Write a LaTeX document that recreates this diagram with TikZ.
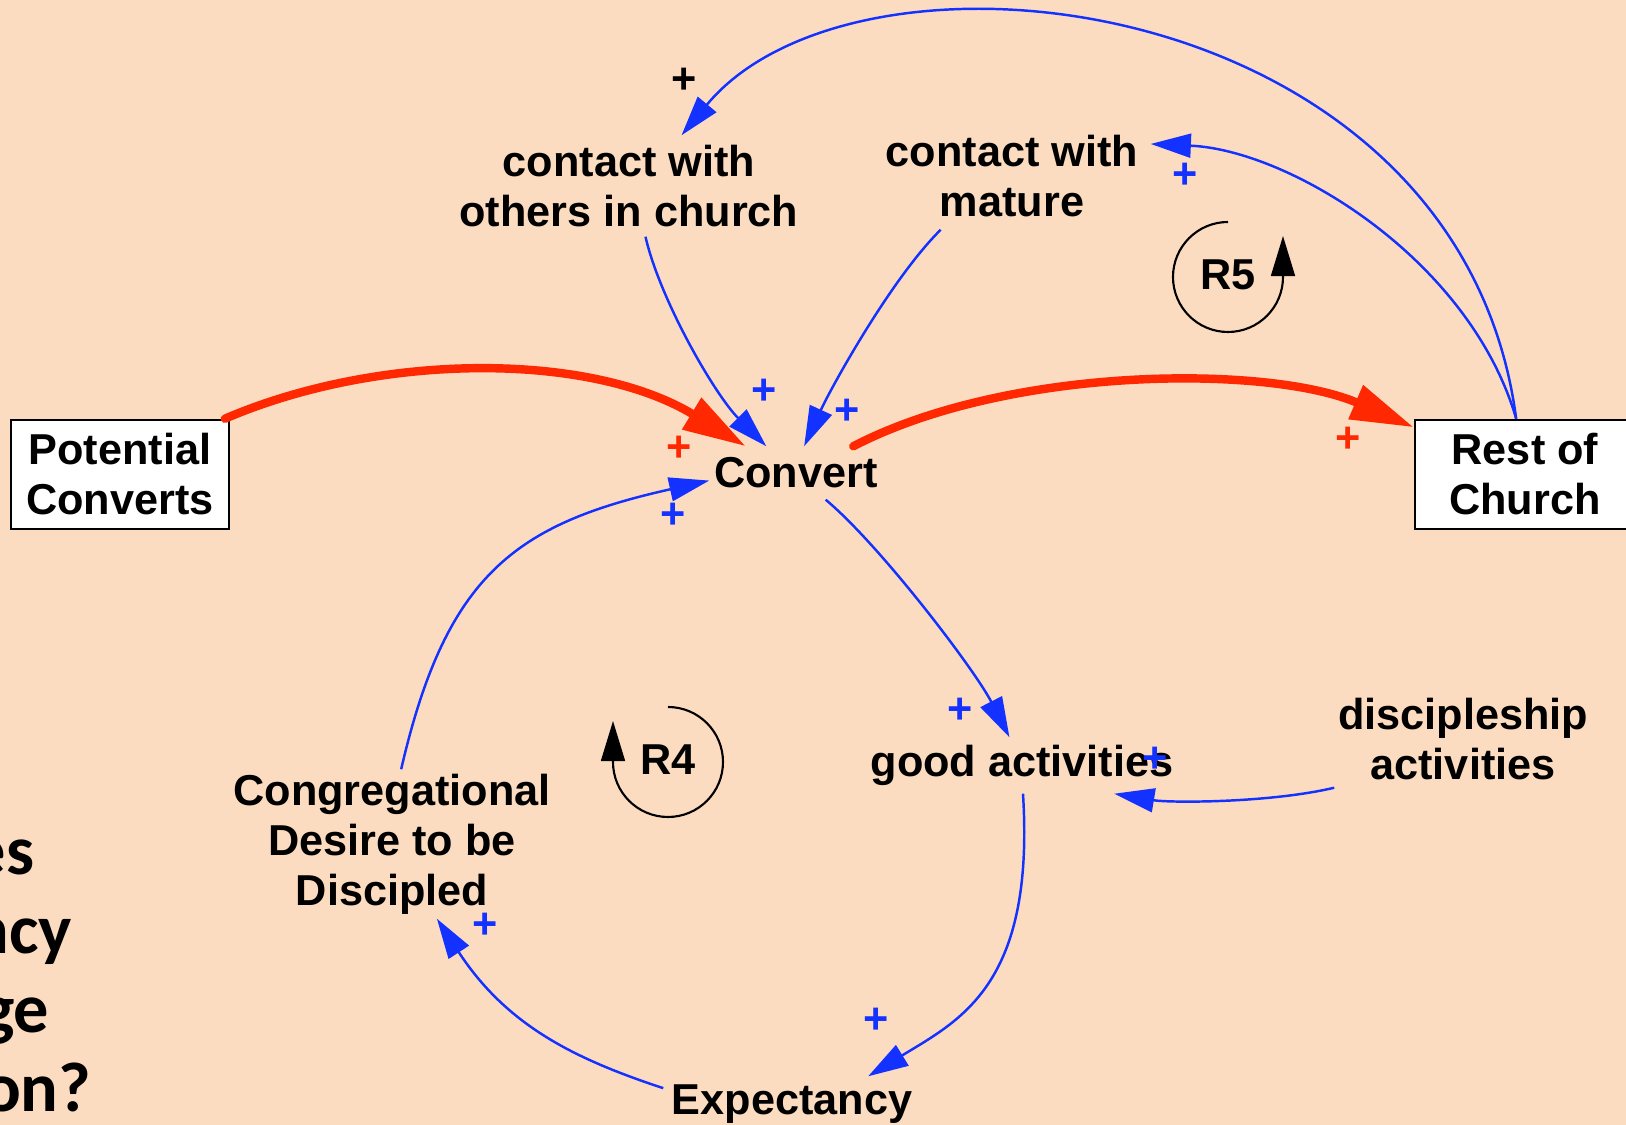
\documentclass[tikz,border=0pt]{standalone}
\usepackage{fontspec}
\setmainfont{Liberation Sans}
\newfontfamily\notefont{Carlito}
\usepackage{tikz}
\usetikzlibrary{arrows.meta}

\definecolor{peach}{RGB}{252,220,192}
\definecolor{linkblue}{RGB}{20,50,255}
\definecolor{flowred}{RGB}{255,40,0}

\tikzset{
  var/.style={font=\fontsize{12.3}{14.2}\selectfont\bfseries, align=center, inner sep=0pt},
  stock/.style={var, draw, fill=white, line width=0.7pt},
  link/.style={linkblue, line width=0.7pt, -{Triangle[length=11.4pt,width=6.8pt]}},
  flow/.style={flowred, line width=2.4pt, line cap=round, -{Triangle[length=18pt,width=10pt]}},
  loopmark/.style={black, line width=0.6pt, -{Triangle[length=11.4pt,width=6.8pt]}},
  sign/.style={font=\fontsize{12.3}{14.2}\selectfont\bfseries, inner sep=0pt},
  question/.style={font=\notefont\fontsize{20}{24}\selectfont\bfseries, inner sep=0pt, anchor=base east},
}

\begin{document}
\begin{tikzpicture}[x=0.01cm, y=0.01cm]
  \useasboundingbox (0,0) rectangle (1626,-1125);
  \fill[peach] (0,0) rectangle (1626,-1125);
  \clip (0,0) rectangle (1626,-1125);

  % stocks
  \node[stock, minimum width=21.8mm, minimum height=10.9mm] (potential) at (120,-474.5) {Potential\\Converts};
  \node[stock, minimum width=22mm, minimum height=10.9mm] (rest) at (1525,-474.5) {Rest of\\Church};

  % variables
  \node[var, minimum width=17.2mm, minimum height=5.2mm] (convert) at (796,-473) {Convert};
  \node[var, minimum width=35mm, minimum height=10mm] (others) at (629,-186) {contact with\\others in church};
  \node[var, minimum width=27.6mm, minimum height=10.6mm] (mature) at (1012,-176) {contact with\\mature};
  \node[var, minimum width=31mm, minimum height=5.5mm] (good) at (1022,-765.5) {good activities};
  \node[var, minimum width=25.6mm, minimum height=9.6mm] (disc) at (1463,-739) {discipleship\\activities};
  \node[var, minimum width=33mm, minimum height=14.8mm] (desire) at (392,-844) {Congregational\\Desire to be\\Discipled};
  \node[var, minimum width=25.6mm, minimum height=5.4mm] (expect) at (792,-1104) {Expectancy};

  % loop markers
  \node[var] (r5) at (1228,-275) {R5};
  \node[var] (r4) at (668,-760) {R4};
  \draw[loopmark] (1228,-222) arc[start angle=90, end angle=360, radius=55] -- ++(0,41);
  \draw[loopmark] (668,-707) arc[start angle=90, end angle=-180, radius=55] -- ++(0,41);

  % material flows
  \draw[flow] (potential.28) .. controls (380,-352) and (590,-352) .. (convert.152);
  \draw[flow] (convert.25) .. controls (1010,-365) and (1270,-365) .. (rest.157);

  % causal links
  \draw[link] (others.288) .. controls (660,-300) and (715,-395) .. (convert.138);
  \draw[link] (mature.217) .. controls (890,-280) and (830,-390) .. (convert.73);
  \draw[link] (rest.99) .. controls (1460,10) and (860,80) .. (others.44);
  \draw[link] (rest.99) .. controls (1470,-260) and (1290,-150) .. (mature.13);
  \draw[link] (convert.318) .. controls (880,-545) and (975,-670) .. (good.114);
  \draw[link] (disc.south west) .. controls (1270,-803) and (1170,-803) .. (good.343);
  \draw[link] (good.272) .. controls (1035,-985) and (960,-1020) .. (expect.20);
  \draw[link] (expect.173) .. controls (575,-1059) and (507,-1026) .. (desire.301);
  \draw[link] (desire.83) .. controls (446,-575) and (515,-524) .. (convert.185);

  % polarity signs
  \node[sign] (sk) at (684,-81) {+};
  \foreach \x/\y [count=\i] in {764/392, 847/412, 673/516, 1185/176, 960/711, 1155/760, 485/926, 876/1021}
    \node[sign, linkblue] (sb\i) at (\x,-\y) {+};
  \node[sign, flowred] (sr1) at (679,-449) {+};
  \node[sign, flowred] (sr2) at (1348,-440) {+};

  % question text cut at the left edge
  \node[question] (q1) at (35,-875) {es};
  \node[question] (q2) at (73,-954) {ncy};
  \node[question] (q3) at (50,-1033) {ge};
  \node[question] (q4) at (92,-1112) {on?};
\end{tikzpicture}
\end{document}
